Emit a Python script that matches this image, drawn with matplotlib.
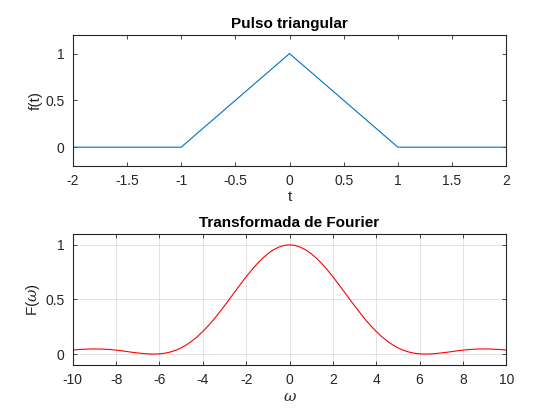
import matplotlib
matplotlib.use('Agg')
import matplotlib.pyplot as plt
import numpy as np

plt.rcParams['font.family'] = ['Liberation Sans', 'DejaVu Sans']
plt.rcParams['mathtext.fontset'] = 'dejavuserif'

# triangular pulse
t = [-2, -1, 0, 1, 2]
f_t = [0, 0, 1, 0, 0]

w = np.arange(-10, 10.01, 0.25)
F_w = [0.037, 0.041, 0.044, 0.046, 0.047, 0.046, 0.044, 0.041, 0.036, 0.030,
       0.023, 0.016, 0.010, 0.005, 0.001, 0.000, 0.002, 0.008, 0.019, 0.035,
       0.057, 0.085, 0.120, 0.160, 0.207, 0.259, 0.316, 0.378, 0.442, 0.509,
       0.576, 0.643, 0.708, 0.769, 0.826, 0.876, 0.919, 0.954, 0.979, 0.995,
       1.000,
       0.995, 0.979, 0.954, 0.919, 0.876, 0.826, 0.769, 0.708, 0.643, 0.576,
       0.509, 0.442, 0.378, 0.316, 0.259, 0.207, 0.160, 0.120, 0.085, 0.057,
       0.035, 0.019, 0.008, 0.002, 0.000, 0.001, 0.005, 0.010, 0.016, 0.023,
       0.030, 0.036, 0.041, 0.044, 0.046, 0.047, 0.046, 0.044, 0.041, 0.037]

txt = '#262626'

fig = plt.figure(figsize=(5.6, 4.2), dpi=100)
ax1 = fig.add_axes([0.130, 0.605, 0.774, 0.312])
ax2 = fig.add_axes([0.130, 0.131, 0.774, 0.312])

ax1.plot(t, f_t, color=(0, 0.447, 0.741), lw=0.8)
ax1.set_xlim(-2, 2)
ax1.set_ylim(-0.2, 1.2)
ax1.set_xticks(np.arange(-2, 2.01, 0.5))
ax1.set_xticklabels(['-2', '-1.5', '-1', '-0.5', '0', '0.5', '1', '1.5', '2'])
ax1.set_yticks([0, 0.5, 1])
ax1.set_yticklabels(['0', '0.5', '1'])
ax1.set_title('Pulso triangular', fontsize=11, fontweight='bold', pad=5)
ax1.set_xlabel('t', fontsize=11, color=txt, labelpad=1)
ax1.set_ylabel('f(t)', fontsize=11, color=txt, labelpad=2)

ax2.plot(w, F_w, color='red', lw=0.8)
ax2.set_xlim(-10, 10)
ax2.set_ylim(-0.1, 1.1)
ax2.set_xticks(np.arange(-10, 10.1, 2))
ax2.set_xticklabels([str(v) for v in range(-10, 11, 2)])
ax2.set_yticks([0, 0.5, 1])
ax2.set_yticklabels(['0', '0.5', '1'])
ax2.grid(True, color='#262626', alpha=0.15, lw=0.6)
ax2.set_title('Transformada de Fourier', fontsize=11, fontweight='bold', pad=5)
ax2.set_xlabel(r'$\omega$', fontsize=11, color=txt, labelpad=2)
ax2.set_ylabel(r'F($\omega$)', fontsize=11, color=txt, labelpad=2)

for ax in (ax1, ax2):
    ax.set_axisbelow(True)
    ax.tick_params(direction='in', length=3, width=0.6, top=True, right=True,
                   labelsize=10, colors=txt, pad=6)
    for s in ax.spines.values():
        s.set_linewidth(0.8)
        s.set_color(txt)

fig.savefig('out.png', dpi=100)
